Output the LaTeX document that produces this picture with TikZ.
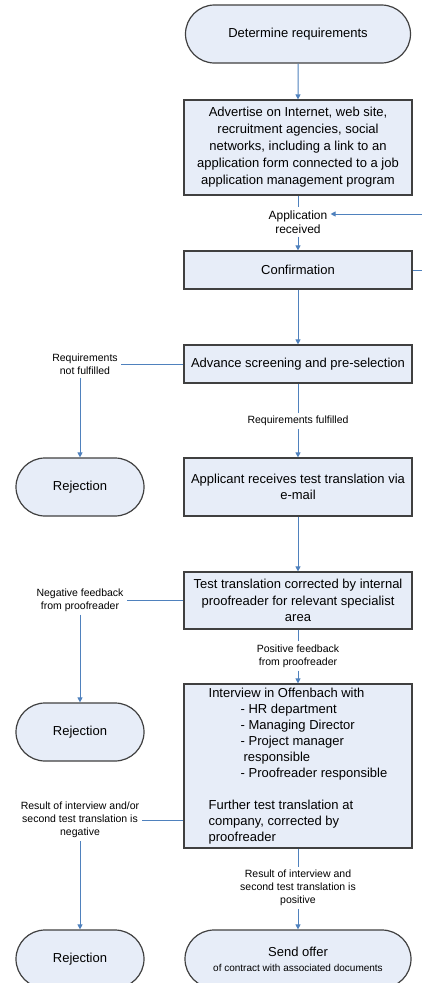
\documentclass[tikz,border=0pt]{standalone}
\usepackage{fontspec}
\setmainfont{Liberation Sans}
\usetikzlibrary{arrows.meta,shapes.misc}
\definecolor{boxfill}{RGB}{231,237,248}
\definecolor{boxline}{RGB}{64,64,64}
\definecolor{arrowblue}{RGB}{79,129,189}
\begin{document}
\begin{tikzpicture}[x=1pt,y=-1pt,
  procbox/.style={draw=boxline,fill=boxfill,line width=1.2pt,minimum width=228pt,inner sep=2pt,align=center,font=\fontsize{13}{16.5}\selectfont},
  termbox/.style={draw=boxline,fill=boxfill,line width=1.2pt,rounded rectangle,minimum height=58pt,inner sep=2pt,align=center,font=\fontsize{13}{15}\selectfont},
  lbl/.style={font=\fontsize{10.5}{13}\selectfont,align=center,inner sep=3pt},
  conn/.style={draw=arrowblue,line width=1pt},
  arr/.style={conn,-{Triangle[length=5pt,width=5pt]}}]
\useasboundingbox (0,0) rectangle (422,983);

\node[termbox,minimum width=229pt] (req) at (298,34) {Determine requirements};
\node[procbox,minimum height=95pt,font=\fontsize{13}{17}\selectfont] (adv) at (298,147.5) {Advertise on Internet, web site,\\recruitment agencies, social\\networks, including a link to an\\application form connected to a job\\application management program};
\node[lbl,font=\fontsize{12}{14}\selectfont] (lapp) at (298,222) {Application\\received};
\node[procbox,minimum height=38pt] (conf) at (298,270) {Confirmation};
\node[procbox,minimum height=38pt] (scr) at (298,364) {Advance screening and pre-selection};
\node[lbl] (lnot) at (85,364) {Requirements\\not fulfilled};
\node[termbox,minimum width=132pt] (rej1) at (80,487) {Rejection};
\node[lbl] (lful) at (298,421) {Requirements fulfilled};
\node[procbox,minimum height=58pt] (appl) at (298,487) {Applicant receives test translation via\\e-mail};
\node[procbox,minimum height=57pt] (test) at (298,600.5) {Test translation corrected by internal\\proofreader for relevant specialist\\area};
\node[lbl] (lneg) at (80,600) {Negative feedback\\from proofreader};
\node[lbl] (lpos) at (298,656) {Positive feedback\\from proofreader};
\node[termbox,minimum width=132pt] (rej2) at (80,732) {Rejection};
\node[procbox,minimum height=164pt,align=left,font=\fontsize{13}{16}\selectfont] (int) at (298,766) {Interview in Offenbach with\\\hspace*{32pt}- HR department\\\hspace*{32pt}- Managing Director\\\hspace*{32pt}- Project manager\\\hspace*{35pt}responsible\\\hspace*{32pt}- Proofreader responsible\\[16pt]Further test translation at\\company, corrected by\\proofreader};
\node[lbl] (lnegint) at (80,820) {Result of interview and/or\\second test translation is\\negative};
\node[termbox,minimum width=132pt] (rej3) at (80,959) {Rejection};
\node[lbl] (lposint) at (298,888) {Result of interview and\\second test translation is\\positive};
\node[termbox,minimum width=230pt] (offer) at (298,959) {Send offer\\{\fontsize{10}{12}\selectfont of contract with associated documents}};

\coordinate (loop) at (430,214);

\draw[arr] (req) -- (adv);
\draw[conn] (adv) -- (lapp);
\draw[arr] (lapp) -- (conf);
\draw[arr] (conf.east) -- (loop |- conf.east) -- (loop) -- (loop -| lapp.east);
\draw[arr] (conf) -- (scr);
\draw[conn] (scr.west) -- (lnot.east |- scr.west);
\draw[arr] (lnot.south -| rej1.north) -- (rej1.north);
\draw[conn] (scr) -- (lful);
\draw[arr] (lful) -- (appl);
\draw[arr] (appl) -- (test);
\draw[conn] (test.west) -- (lneg.east |- test.west);
\draw[arr] (lneg.south -| rej2.north) -- (rej2.north);
\draw[conn] (test) -- (lpos);
\draw[arr] (lpos) -- (int);
\draw[conn] (lnegint.east) -- (lnegint.east -| int.west);
\draw[arr] (lnegint.south -| rej3.north) -- (rej3.north);
\draw[conn] (int) -- (lposint);
\draw[arr] (lposint) -- (offer);
\end{tikzpicture}
\end{document}
